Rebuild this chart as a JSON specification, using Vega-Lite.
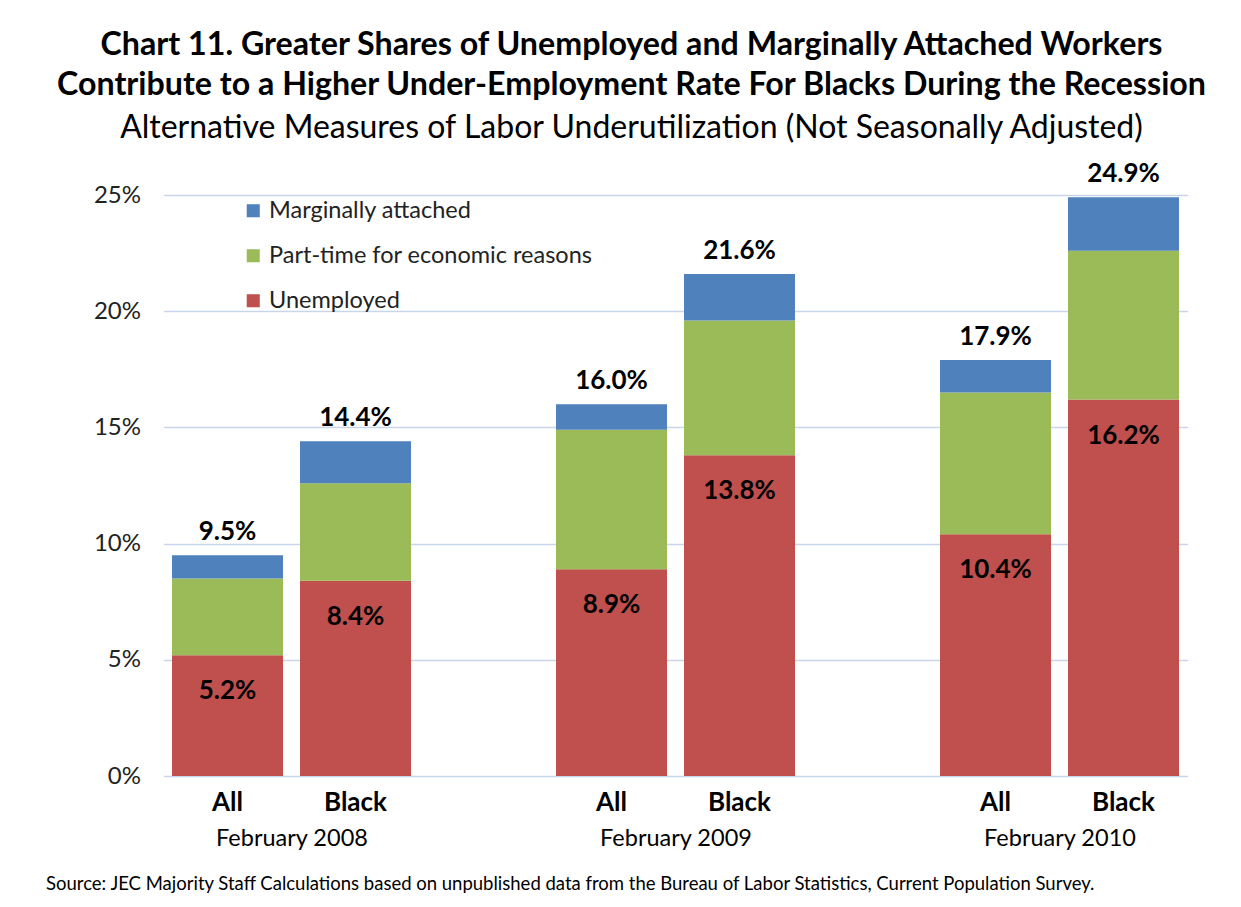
{
  "$schema": "https://vega.github.io/schema/vega-lite/v6.json",
  "width": 1024,
  "height": 581,
  "autosize": {"type": "none"},
  "padding": {"left": 163.5, "top": 195, "right": 53.5, "bottom": 131},
  "background": "white",
  "config": {"font": "Lato", "view": {"stroke": null}},
  "title": {
    "text": ["Chart 11. Greater Shares of Unemployed and Marginally Attached Workers", "Contribute to a Higher Under-Employment Rate For Blacks During the Recession"],
    "subtitle": "Alternative Measures of Labor Underutilization (Not Seasonally Adjusted)",
    "fontSize": 32.2,
    "fontWeight": "bold",
    "color": "black",
    "lineHeight": 40,
    "subtitleFontSize": 32,
    "subtitleColor": "black",
    "subtitlePadding": 11,
    "anchor": "middle",
    "frame": "group",
    "dx": -44,
    "offset": 16
  },
  "datasets": {
    "segments": [
      {"bar": "2008 All", "category": "Unemployed", "value": 5.2},
      {"bar": "2008 All", "category": "Part-time for economic reasons", "value": 3.3},
      {"bar": "2008 All", "category": "Marginally attached", "value": 1.0},
      {"bar": "2008 Black", "category": "Unemployed", "value": 8.4},
      {"bar": "2008 Black", "category": "Part-time for economic reasons", "value": 4.2},
      {"bar": "2008 Black", "category": "Marginally attached", "value": 1.8},
      {"bar": "2009 All", "category": "Unemployed", "value": 8.9},
      {"bar": "2009 All", "category": "Part-time for economic reasons", "value": 6.0},
      {"bar": "2009 All", "category": "Marginally attached", "value": 1.1},
      {"bar": "2009 Black", "category": "Unemployed", "value": 13.8},
      {"bar": "2009 Black", "category": "Part-time for economic reasons", "value": 5.8},
      {"bar": "2009 Black", "category": "Marginally attached", "value": 2.0},
      {"bar": "2010 All", "category": "Unemployed", "value": 10.4},
      {"bar": "2010 All", "category": "Part-time for economic reasons", "value": 6.1},
      {"bar": "2010 All", "category": "Marginally attached", "value": 1.4},
      {"bar": "2010 Black", "category": "Unemployed", "value": 16.2},
      {"bar": "2010 Black", "category": "Part-time for economic reasons", "value": 6.4},
      {"bar": "2010 Black", "category": "Marginally attached", "value": 2.3}
    ],
    "totals": [
      {"bar": "2008 All", "total": 9.5},
      {"bar": "2008 Black", "total": 14.4},
      {"bar": "2009 All", "total": 16.0},
      {"bar": "2009 Black", "total": 21.6},
      {"bar": "2010 All", "total": 17.9},
      {"bar": "2010 Black", "total": 24.9}
    ],
    "months": [
      {"month": "February 2008"},
      {"month": "February 2009"},
      {"month": "February 2010"}
    ]
  },
  "layer": [
    {
      "encoding": {
        "x": {
          "field": "bar",
          "type": "nominal",
          "scale": {
            "domain": ["2008 All", "2008 Black", "gap1", "2009 All", "2009 Black", "gap2", "2010 All", "2010 Black"],
            "paddingInner": 0.1328,
            "paddingOuter": 0.0664
          },
          "axis": {
            "orient": "bottom",
            "title": null,
            "labelAngle": 0,
            "labelExpr": "indexof(datum.value, 'All') >= 0 ? 'All' : (indexof(datum.value, 'Black') >= 0 ? 'Black' : '')",
            "labelFontSize": 26,
            "labelFontWeight": "bold",
            "labelColor": "black",
            "labelPadding": 13,
            "labelOverlap": false,
            "ticks": false,
            "domain": false,
            "grid": false
          }
        }
      },
      "layer": [
        {
          "data": {"name": "segments"},
          "mark": {"type": "bar"},
          "encoding": {
            "y": {
              "field": "value",
              "type": "quantitative",
              "stack": "zero",
              "scale": {"domain": [0, 25], "nice": false},
              "axis": {
                "title": null,
                "values": [0, 5, 10, 15, 20, 25],
                "labelExpr": "datum.value + '%'",
                "labelFontSize": 24,
                "labelColor": "#222222",
                "labelPadding": 23,
                "domain": false,
                "ticks": false,
                "grid": true,
                "gridColor": "#c8d6ea",
                "gridWidth": 1.3
              }
            },
            "color": {
              "field": "category",
              "type": "nominal",
              "scale": {
                "domain": ["Marginally attached", "Part-time for economic reasons", "Unemployed"],
                "range": ["#4f81bd", "#9bbb59", "#c0504d"]
              },
              "legend": {
                "title": null,
                "orient": "none",
                "legendX": 78,
                "legendY": 4,
                "symbolType": "square",
                "symbolSize": 170,
                "symbolStrokeWidth": 0,
                "labelFontSize": 23.5,
                "labelColor": "#222222",
                "labelOffset": 4,
                "labelLimit": 500,
                "rowPadding": 20
              }
            },
            "order": {"field": "category", "sort": "descending"}
          }
        },
        {
          "data": {"name": "totals"},
          "transform": [{"calculate": "format(datum.total, '.1f') + '%'", "as": "label"}],
          "mark": {"type": "text", "fontSize": 26, "fontWeight": "bold", "color": "black", "baseline": "middle", "dy": -23},
          "encoding": {
            "y": {"field": "total", "type": "quantitative"},
            "text": {"field": "label"}
          }
        },
        {
          "data": {"name": "segments"},
          "transform": [
            {"filter": "datum.category == 'Unemployed'"},
            {"calculate": "format(datum.value, '.1f') + '%'", "as": "label"}
          ],
          "mark": {"type": "text", "fontSize": 26, "fontWeight": "bold", "color": "black", "baseline": "middle", "dy": 36},
          "encoding": {
            "y": {"field": "value", "type": "quantitative"},
            "text": {"field": "label"}
          }
        }
      ]
    },
    {
      "data": {"name": "months"},
      "mark": {"type": "text", "text": ""},
      "encoding": {
        "x": {
          "field": "month",
          "type": "nominal",
          "scale": {"type": "point", "padding": 0.33333, "domain": ["February 2008", "February 2009", "February 2010"]},
          "axis": {
            "orient": "bottom",
            "labelAngle": 0,
            "labelFontSize": 23.5,
            "labelColor": "black",
            "labelPadding": 50,
            "labelOverlap": false,
            "ticks": false,
            "domain": false,
            "grid": false,
            "title": "Source: JEC Majority Staff Calculations based on unpublished data from the Bureau of Labor Statistics, Current Population Survey.",
            "titleFontSize": 18.5,
            "titleFontWeight": "normal",
            "titleColor": "black",
            "titleAnchor": "start",
            "titleAlign": "left",
            "titleBaseline": "middle",
            "titleX": -118,
            "titleY": 107
          }
        }
      }
    }
  ],
  "resolve": {"scale": {"x": "independent"}, "axis": {"x": "independent"}}
}
